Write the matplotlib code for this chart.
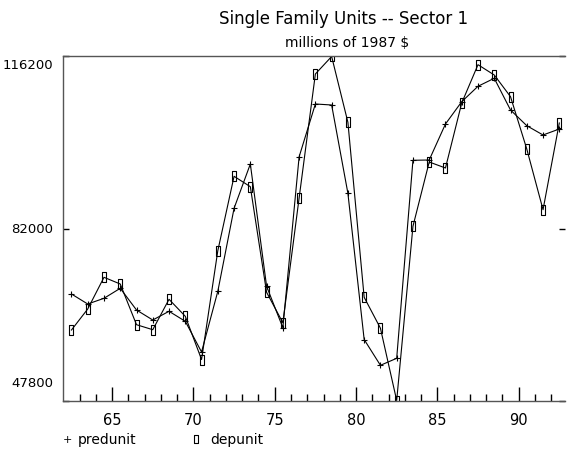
import numpy as np
import matplotlib
matplotlib.use("Agg")
import matplotlib.pyplot as plt
from matplotlib.path import Path

plt.rcParams['font.family'] = ['Liberation Sans Narrow', 'DejaVu Sans']

years = np.arange(62, 93)

predunit = [68976, 66988, 68121, 70110, 65795, 63807, 65537, 63548, 57444, 69513,
            86017, 94826, 70508, 62276, 96257, 106756, 106557, 89000, 59929, 54799,
            56191, 95561, 95621, 102779, 107213, 110276, 111866, 105563, 102441, 100592,
            101785]
depunit = [61818, 65994, 72297, 70965, 62872, 61878, 67923, 64542, 55952, 77586,
           92380, 90312, 69314, 63270, 88065, 112721, 116200, 103117, 68320, 62176,
           47800, 82438, 95223, 94030, 106955, 114571, 112522, 108208, 97808, 85739,
           102978]

ytick_vals = [47800, 82000, 116200]
xtick_major = [65, 70, 75, 80, 85, 90]

# tall narrow box marker like the original plotter symbol
box = Path([(-0.55, -1), (0.55, -1), (0.55, 1), (-0.55, 1), (-0.55, -1)],
           [Path.MOVETO, Path.LINETO, Path.LINETO, Path.LINETO, Path.CLOSEPOLY])

fig = plt.figure(figsize=(5.68, 4.52), dpi=100)
ax = fig.add_axes([0.1115, 0.1117, 0.8832, 0.7611])

x = years + 0.5  # values plotted at mid-year
ax.plot(x, predunit, color='black', lw=0.8, marker='+', ms=5, mew=0.8)
ax.plot(x, depunit, color='black', lw=0.8, marker=box, ms=6.5, mew=0.8,
        mfc='none')

ax.set_xlim(62, 92.85)
ax.set_ylim(min(ytick_vals), max(ytick_vals))

ax.set_xticks(xtick_major)
ax.set_xticks([v for v in range(63, 93) if v not in xtick_major], minor=True)
ax.tick_params(axis='x', which='major', direction='in', length=10, width=1,
               labelsize=10.5, pad=8, top=False)
ax.tick_params(axis='x', which='minor', direction='in', length=5, width=1,
               top=False)

ax.set_yticks(ytick_vals)
ax.set_yticklabels([])
ax.tick_params(axis='y', direction='in', length=4, width=1, right=True)
# y labels sit inside the axis range (top one lowered, bottom one raised)
yoff = [13, 0, -6]
for v, off in zip(ytick_vals, yoff):
    ax.annotate(str(v), xy=(0, v), xycoords=('axes fraction', 'data'),
                xytext=(-7.5, off), textcoords='offset points',
                ha='right', va='center', fontsize=9.5)

for s in ['left', 'bottom', 'top']:
    ax.spines[s].set_linewidth(1)
    ax.spines[s].set_color('#555555')
ax.spines['right'].set_visible(False)

fig.text(0.605, 0.958, 'Single Family Units -- Sector 1', ha='center',
         va='center', fontsize=12)
fig.text(0.611, 0.905, 'millions of 1987 $', ha='center', va='center',
         fontsize=10)

# legend row under the axis
fig.text(0.118, 0.027, '+', ha='center', va='center', fontsize=8)
fig.text(0.137, 0.027, 'predunit', ha='left', va='center', fontsize=10)
ax.plot([0.345], [0.027], transform=fig.transFigure, marker=box, ms=6,
        mew=0.8, mfc='none', color='black', clip_on=False)
fig.text(0.37, 0.027, 'depunit', ha='left', va='center', fontsize=10)

fig.savefig('out.png', dpi=100)
